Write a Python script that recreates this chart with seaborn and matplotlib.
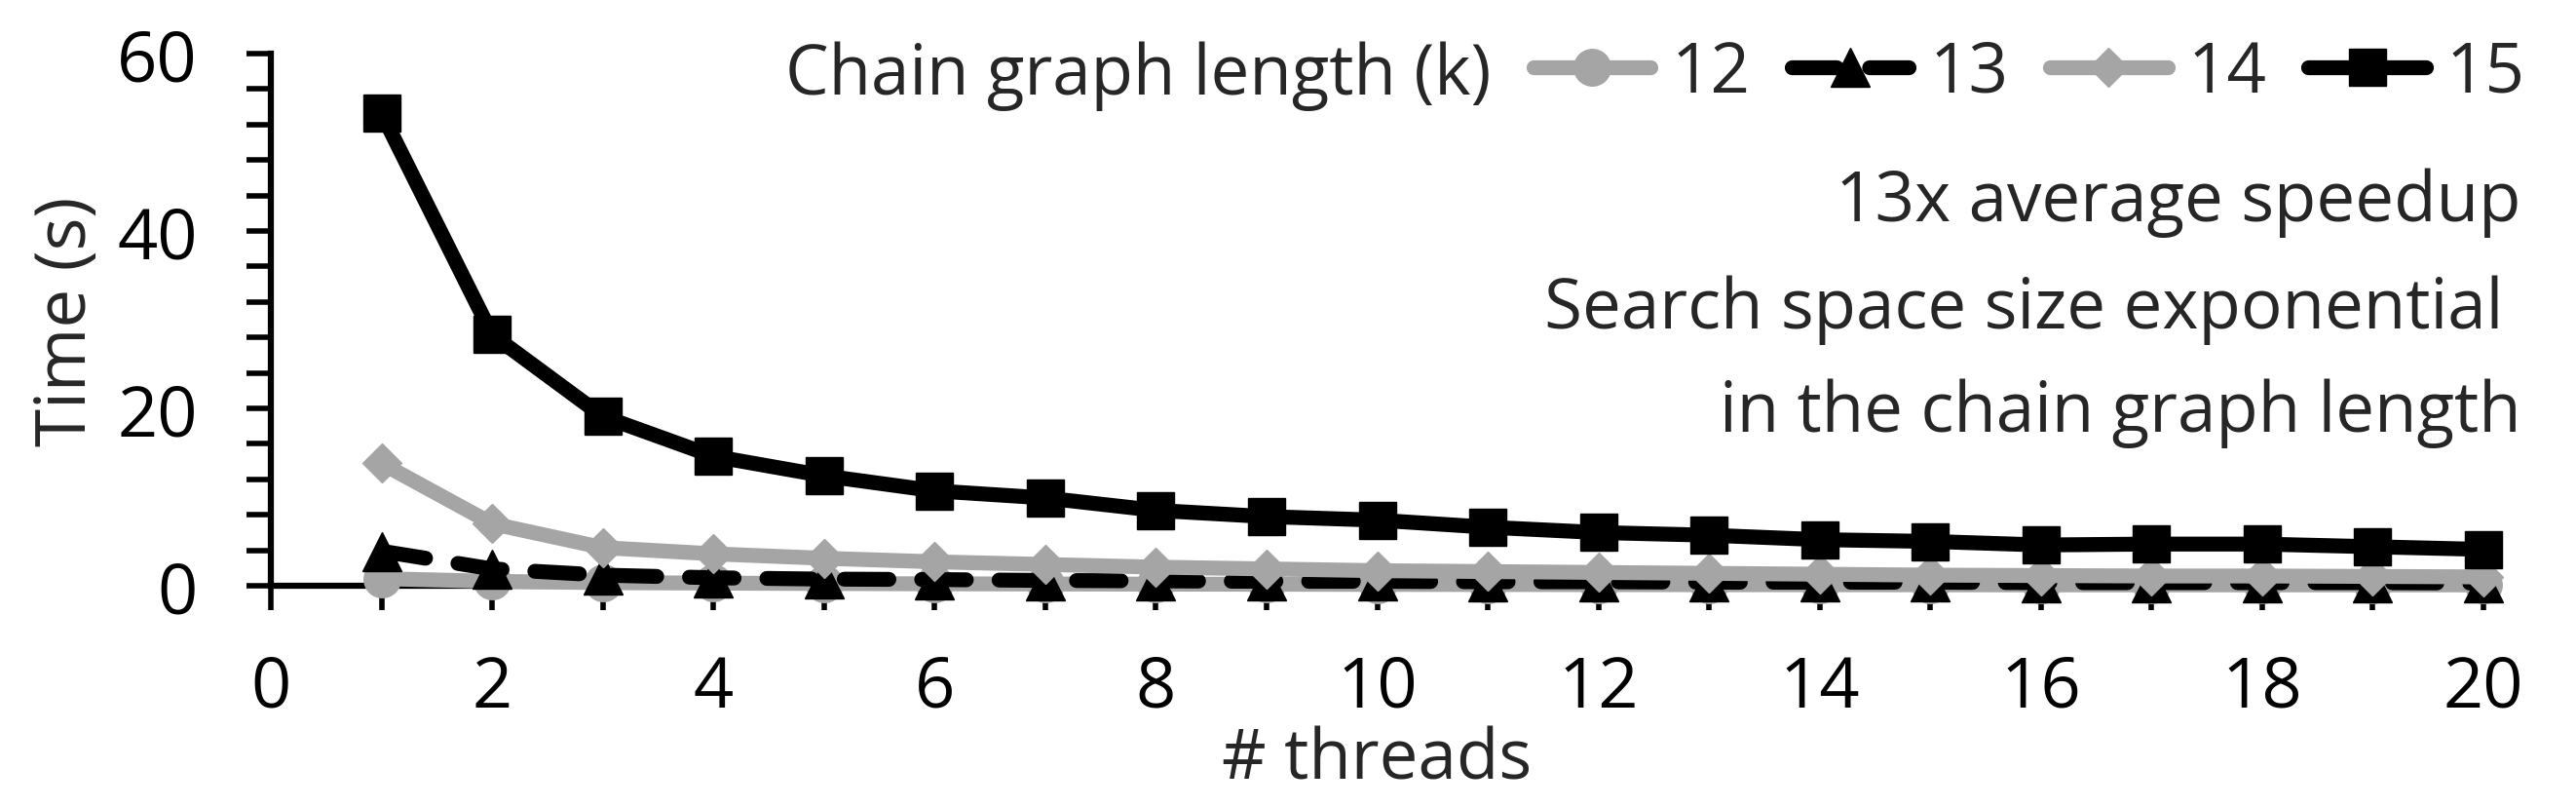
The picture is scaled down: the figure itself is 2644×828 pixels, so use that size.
import matplotlib
matplotlib.use("Agg")
import matplotlib.pyplot as plt
import seaborn as sns
from matplotlib.ticker import MultipleLocator

# threads on x, time in seconds per chain graph length k
threads = list(range(1, 21))
k12 = [0.8, 0.5, 0.35, 0.3, 0.25, 0.22, 0.2, 0.18, 0.17, 0.15,
       0.14, 0.13, 0.12, 0.12, 0.11, 0.1, 0.1, 0.1, 0.1, 0.1]
k13 = [3.9, 1.9, 1.2, 0.9, 0.75, 0.7, 0.6, 0.55, 0.5, 0.5,
       0.45, 0.45, 0.4, 0.4, 0.4, 0.35, 0.35, 0.35, 0.35, 0.3]
k14 = [13.8, 7.0, 4.3, 3.6, 3.1, 2.7, 2.4, 2.1, 1.9, 1.7,
       1.6, 1.5, 1.4, 1.3, 1.2, 1.15, 1.1, 1.1, 1.05, 1.0]
k15 = [53.3, 28.3, 19.1, 14.6, 12.4, 10.7, 9.9, 8.5, 7.8, 7.4,
       6.6, 6.0, 5.7, 5.2, 5.0, 4.6, 4.7, 4.7, 4.4, 4.1]
series_labels = ["12", "13", "14", "15"]

sns.set_theme(style="white")
plt.rcParams["font.family"] = ["Open Sans", "DejaVu Sans"]
FS = 51
TS = 52
W, H = 2644, 829

fig = plt.figure(figsize=(W / 100, H / 100), dpi=100)
ax = fig.add_axes([278 / W, 1 - 602 / H, (2549 - 278) / W, (602 - 56) / H])

gray = "#a5a5a5"
styles = [
    dict(color=gray, marker="o", markersize=27, linestyle="-"),
    dict(color="black", marker="^", markersize=29, linestyle=(0, (3.0, 2.2)), dash_capstyle="round"),
    dict(color=gray, marker="D", markersize=20, linestyle="-"),
    dict(color="black", marker="s", markersize=28, linestyle="-"),
]
for vals, lab, st in zip([k12, k13, k14, k15], series_labels, styles):
    sns.lineplot(x=threads, y=vals, ax=ax, label=lab, linewidth=11,
                 markeredgecolor=st["color"], markeredgewidth=1,
                 clip_on=False, zorder=3, **st)

ax.set_xlim(0, 20)
ax.set_ylim(0, 60)
ax.xaxis.set_major_locator(MultipleLocator(2))
ax.xaxis.set_minor_locator(MultipleLocator(1))
ax.yaxis.set_major_locator(MultipleLocator(20))
ax.yaxis.set_minor_locator(MultipleLocator(4))
ax.tick_params(which="both", direction="out", length=18, width=4, color="black",
               bottom=True, left=True)
ax.tick_params(axis="x", which="major", pad=32, labelsize=TS, labelcolor="black")
ax.tick_params(axis="y", which="major", pad=36, labelsize=TS, labelcolor="black")
sns.despine(ax=ax)
for side in ["left", "bottom"]:
    ax.spines[side].set_linewidth(4.5)
    ax.spines[side].set_color("black")
ax.set_xlabel("")
ax.set_ylabel("")

fig.text(69 / W, 1 - 330 / H, "Time (s)", rotation=90, ha="center", va="center", fontsize=FS)
fig.text(1413 / W, 1 - 800 / H, "# threads", ha="center", va="baseline", fontsize=FS)

handles, labels = ax.get_legend_handles_labels()
if ax.get_legend() is not None:
    ax.get_legend().remove()
fig.legend(handles, labels, ncol=4, loc="center right",
           bbox_to_anchor=(2592 / W, 1 - 76 / H), frameon=False, fontsize=FS,
           handlelength=1.7, handletextpad=0.3, columnspacing=0.6,
           borderpad=0, borderaxespad=0)
fig.text(1531 / W, 1 - 97 / H, "Chain graph length (k)", ha="right", va="baseline", fontsize=FS)

fig.text(2588 / W, 1 - 227 / H, "13x average speedup", ha="right", va="baseline", fontsize=FS)
fig.text(2569 / W, 1 - 337 / H, "Search space size exponential", ha="right", va="baseline", fontsize=FS)
fig.text(2588 / W, 1 - 443 / H, "in the chain graph length", ha="right", va="baseline", fontsize=FS)

fig.savefig("out.png", dpi=100, facecolor="white")
